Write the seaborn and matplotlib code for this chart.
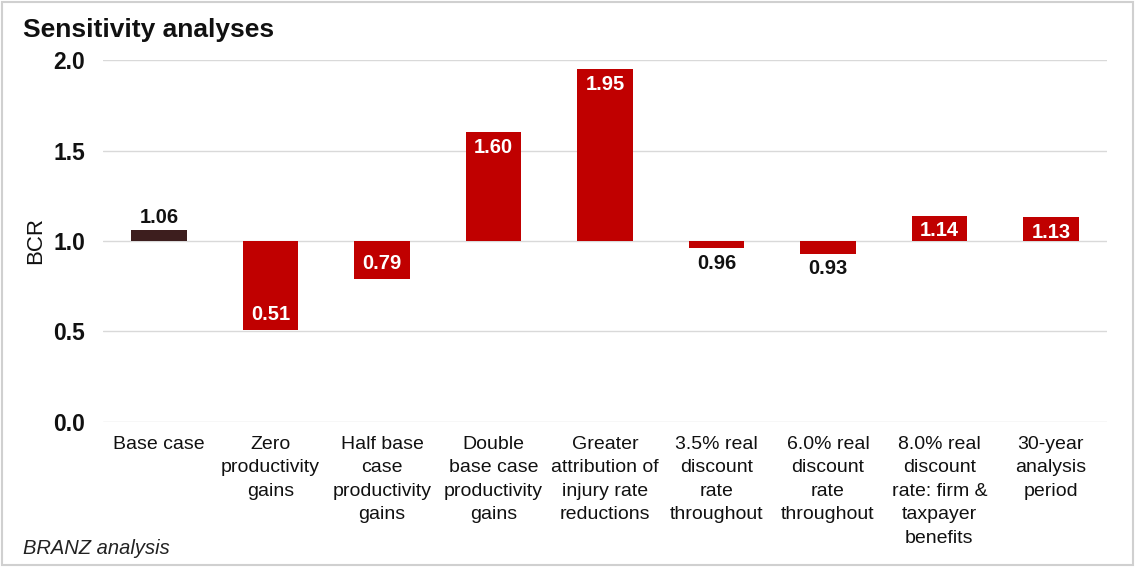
import matplotlib
matplotlib.use("Agg")
import matplotlib.pyplot as plt
import seaborn as sns
import pandas as pd
from matplotlib.patches import Rectangle

# Scenario labels and benefit-cost ratios
scenarios = [
    "Base case",
    "Zero\nproductivity\ngains",
    "Half base\ncase\nproductivity\ngains",
    "Double\nbase case\nproductivity\ngains",
    "Greater\nattribution of\ninjury rate\nreductions",
    "3.5% real\ndiscount\nrate\nthroughout",
    "6.0% real\ndiscount\nrate\nthroughout",
    "8.0% real\ndiscount\nrate: firm &\ntaxpayer\nbenefits",
    "30-year\nanalysis\nperiod",
]
bcr = [1.06, 0.51, 0.79, 1.60, 1.95, 0.96, 0.93, 1.14, 1.13]
y_ticks = [0.0, 0.5, 1.0, 1.5, 2.0]

BASELINE = 1.0
BASE_COLOR = "#3d1e1e"
ALT_COLOR = "#c00000"
TEXT = "#111111"

sns.set_theme(style="white")
plt.rcParams["font.family"] = ["Liberation Sans", "DejaVu Sans"]
plt.rcParams.update({"text.color": TEXT, "axes.labelcolor": TEXT,
                     "xtick.color": TEXT, "ytick.color": TEXT})

df = pd.DataFrame({"scenario": scenarios, "bcr": bcr})
df["delta"] = df["bcr"] - BASELINE
palette = [BASE_COLOR] + [ALT_COLOR] * (len(scenarios) - 1)

fig = plt.figure(figsize=(11.35, 5.67), dpi=100)
ax = fig.add_axes([0.091, 0.256, 0.884, 0.638])

sns.barplot(data=df, x="scenario", y="delta", hue="scenario", palette=palette,
            legend=False, width=0.5, bottom=BASELINE, ax=ax, saturation=1,
            linewidth=0)

ax.set_ylim(0, 2.0)
ax.set_yticks(y_ticks)
ax.set_yticklabels([f"{t:.1f}" for t in y_ticks], fontsize=16.5, fontweight="bold")
ax.yaxis.grid(True, color="#d9d9d9", linewidth=1)
ax.set_axisbelow(True)
for s in ax.spines.values():
    s.set_visible(False)
ax.tick_params(axis="both", length=0)
ax.tick_params(axis="y", pad=13)
ax.tick_params(axis="x", pad=10)
ax.set_xlabel("")
ax.set_ylabel("BCR", fontsize=16, labelpad=5)
for lbl in ax.get_xticklabels():
    lbl.set_fontsize(14)
    lbl.set_linespacing(1.5)
    lbl.set_verticalalignment("top")
    lbl.set_horizontalalignment("center")

# Value labels: inside the bar end when the bar is tall enough, else beyond it
for patch, v in zip(ax.patches, bcr):
    xc = patch.get_x() + patch.get_width() / 2
    d = v - BASELINE
    up = d >= 0
    if abs(d) > 0.1:
        ax.annotate(f"{v:.2f}", (xc, v), xytext=(0, -4 if up else 4),
                    textcoords="offset points", ha="center",
                    va="top" if up else "bottom", color="white",
                    fontsize=14.5, fontweight="bold")
    else:
        ax.annotate(f"{v:.2f}", (xc, v), xytext=(0, 2 if up else -4),
                    textcoords="offset points", ha="center",
                    va="bottom" if up else "top", color=TEXT,
                    fontsize=14.5, fontweight="bold")

fig.text(0.02, 0.947, "Sensitivity analyses", fontsize=19, fontweight="bold",
         va="center", ha="left")
fig.text(0.02, 0.032, "BRANZ analysis", fontsize=14.5, style="italic",
         va="center", ha="left", color="#222222")

fig.patches.append(Rectangle((0.002, 0.003), 0.996, 0.994, transform=fig.transFigure,
                             fill=False, edgecolor="#d0d0d0", linewidth=1.5))

fig.savefig("out.png", dpi=100)
